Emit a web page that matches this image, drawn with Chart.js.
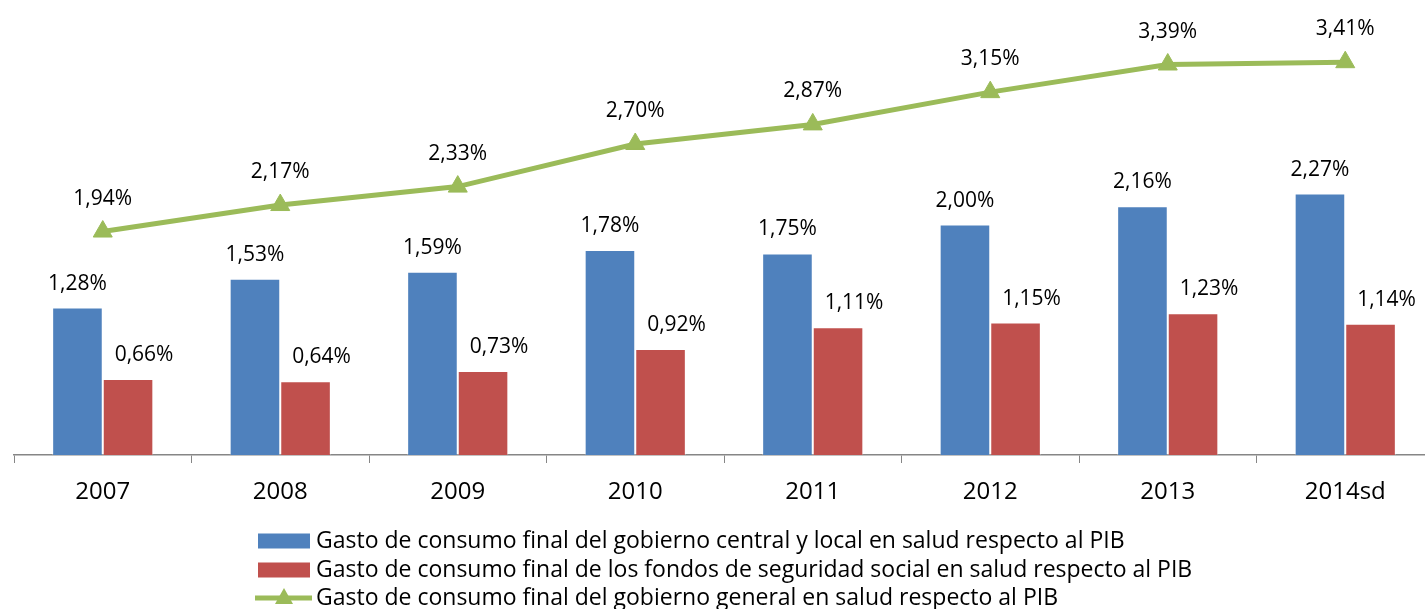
<!DOCTYPE html>
<html>
<head>
<meta charset="utf-8">
<script src="https://cdn.jsdelivr.net/npm/chart.js@4/dist/chart.umd.min.js"></script>
<style>
  html, body { margin: 0; padding: 0; background: #fff; overflow: hidden; }
  #wrap { width: 1440px; height: 609px; }
</style>
</head>
<body>
<div id="wrap"><canvas id="gasto-salud"></canvas></div>
<script>
const categories = ["2007", "2008", "2009", "2010", "2011", "2012", "2013", "2014sd"];
const centralLocal = [1.28, 1.53, 1.59, 1.78, 1.75, 2.00, 2.16, 2.27];
const seguridadSocial = [0.66, 0.64, 0.73, 0.92, 1.11, 1.15, 1.23, 1.14];
const gobiernoGeneral = [1.94, 2.17, 2.33, 2.70, 2.87, 3.15, 3.39, 3.41];

const blue = '#4F81BD';
const red = '#C0504D';
const green = '#9BBB59';
const fontFam = "'Open Sans', 'Noto Sans', sans-serif";

function fmt(v) {
    return v.toFixed(2).replace('.', ',') + '%';
}

// value labels over bars and points
const valueLabels = {
    id: 'valueLabels',
    afterDatasetsDraw(chart) {
        const ctx = chart.ctx;
        ctx.save();
        ctx.font = '21px ' + fontFam;
        ctx.fillStyle = '#000';
        ctx.textAlign = 'center';
        ctx.textBaseline = 'alphabetic';
        chart.data.datasets.forEach(function (ds, i) {
            const meta = chart.getDatasetMeta(i);
            meta.data.forEach(function (el, j) {
                let x = el.x, y;
                if (ds.type === 'line') {
                    y = el.y - 27;
                } else {
                    y = el.y - 18;
                    if (i === 1) x += 16;
                }
                ctx.fillText(fmt(ds.data[j]), x, y);
            });
        });
        ctx.restore();
    }
};

// legend block, left aligned, one row per series
const blockLegend = {
    id: 'blockLegend',
    afterDraw(chart) {
        const ctx = chart.ctx;
        const rows = [548, 577, 605];
        ctx.save();
        ctx.font = '23px ' + fontFam;
        ctx.textBaseline = 'alphabetic';
        chart.data.datasets.forEach(function (ds, i) {
            const base = rows[i];
            const cy = base - 7;
            if (ds.type === 'line') {
                ctx.strokeStyle = ds.borderColor;
                ctx.lineWidth = 5;
                ctx.beginPath();
                ctx.moveTo(255, cy);
                ctx.lineTo(312, cy);
                ctx.stroke();
                ctx.fillStyle = ds.borderColor;
                ctx.beginPath();
                ctx.moveTo(284, cy - 10);
                ctx.lineTo(293, cy + 6);
                ctx.lineTo(275, cy + 6);
                ctx.closePath();
                ctx.fill();
            } else {
                ctx.fillStyle = ds.backgroundColor;
                ctx.fillRect(258, cy - 7.5, 52, 15);
            }
            ctx.fillStyle = '#000';
            ctx.fillText(ds.label, 316, base);
        });
        ctx.restore();
    }
};

new Chart(document.getElementById('gasto-salud'), {
    data: {
        labels: categories,
        datasets: [
            {
                type: 'bar',
                label: 'Gasto de consumo final del gobierno central y local en salud respecto al PIB',
                data: centralLocal,
                backgroundColor: blue,
                borderColor: 'rgba(255,255,255,0.35)',
                borderWidth: 1,
                order: 1,
            },
            {
                type: 'bar',
                label: 'Gasto de consumo final de los fondos de seguridad social en salud respecto al PIB',
                data: seguridadSocial,
                backgroundColor: red,
                borderColor: 'rgba(255,255,255,0.35)',
                borderWidth: 1,
                order: 1,
            },
            {
                type: 'line',
                label: 'Gasto de consumo final del gobierno general en salud respecto al PIB',
                data: gobiernoGeneral,
                borderColor: green,
                backgroundColor: green,
                borderWidth: 5,
                tension: 0,
                pointStyle: 'triangle',
                pointRadius: 11,
                pointBorderWidth: 1,
                pointBackgroundColor: green,
                pointBorderColor: green,
                clip: false,
                order: 0,
            },
        ],
    },
    options: {
        responsive: true,
        maintainAspectRatio: false,
        animation: false,
        layout: { autoPadding: false, padding: { left: 14, right: 6, top: 0, bottom: 0 } },
        plugins: {
            legend: { display: false },
            tooltip: { enabled: false },
        },
        datasets: {
            bar: { barPercentage: 1, categoryPercentage: 0.57 },
        },
        scales: {
            x: {
                offset: true,
                afterFit: function (scale) { scale.height = 154; },
                grid: {
                    display: true,
                    offset: true,
                    drawOnChartArea: false,
                    drawTicks: true,
                    tickLength: 8,
                    color: '#868686',
                },
                border: { display: true, color: '#868686', width: 1.5 },
                ticks: {
                    color: '#000',
                    padding: 15,
                    font: { family: fontFam, size: 24 },
                },
            },
            y: {
                display: false,
                min: 0,
                max: 3.95,
            },
        },
    },
    plugins: [valueLabels, blockLegend],
});
</script>
</body>
</html>
